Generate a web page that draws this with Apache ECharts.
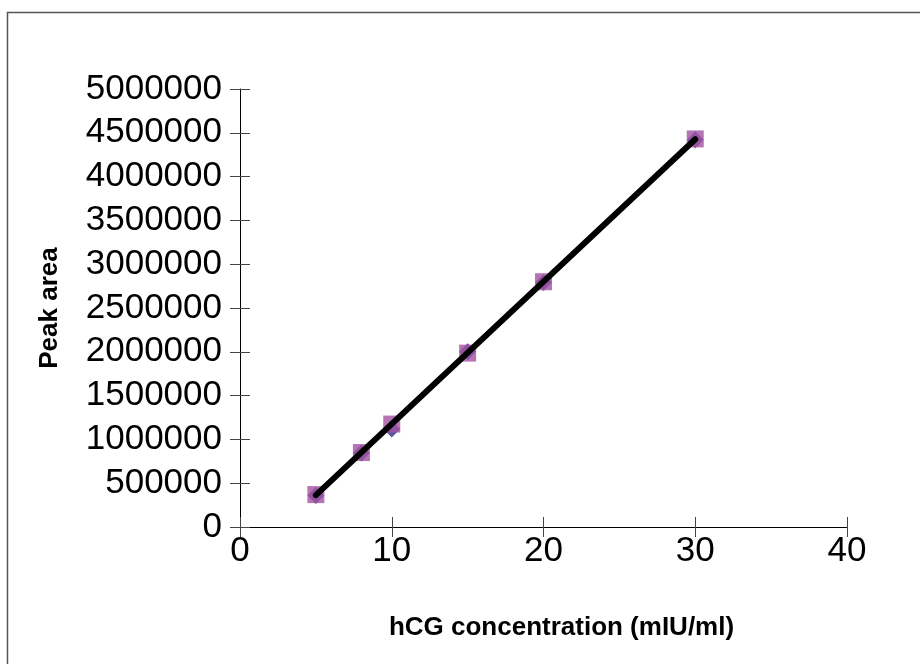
<!DOCTYPE html>
<html>
<head>
<meta charset="utf-8">
<script src="https://cdn.jsdelivr.net/npm/echarts@6/dist/echarts.min.js"></script>
<style>
  html, body { margin: 0; padding: 0; background: #fff; }
  #chart { width: 920px; height: 664px; }
</style>
</head>
<body>
<div id="chart"></div>
<script>
// hCG calibration: peak area against concentration
const concentration = [5, 8, 10, 15, 20, 30];
const peakAreaRun1 = [360000, 845000, 1120000, 2000000, 2790000, 4420000];
const peakAreaRun2 = [370000, 850000, 1175000, 1985000, 2800000, 4430000];

const xTicks = { min: 0, max: 40, interval: 10 };
const yTicks = { min: 0, max: 5000000, interval: 500000 };

// least-squares trend line through the second run
function linearFit(xs, ys) {
  const n = xs.length;
  const mx = xs.reduce((a, b) => a + b, 0) / n;
  const my = ys.reduce((a, b) => a + b, 0) / n;
  let sxy = 0, sxx = 0;
  for (let i = 0; i < n; i++) {
    sxy += (xs[i] - mx) * (ys[i] - my);
    sxx += (xs[i] - mx) * (xs[i] - mx);
  }
  const slope = sxy / sxx;
  return { slope, intercept: my - slope * mx };
}
const fit = linearFit(concentration, peakAreaRun2);
const xLo = Math.min(...concentration), xHi = Math.max(...concentration);
const trend = [[xLo, fit.intercept + fit.slope * xLo], [xHi, fit.intercept + fit.slope * xHi]];

const font = "'Liberation Sans', Arial, sans-serif";
const plain = v => String(v);
const chart = echarts.init(document.getElementById('chart'));

const baseX = {
  type: 'value', min: xTicks.min, max: xTicks.max, interval: xTicks.interval,
  splitLine: { show: false }
};
const baseY = {
  type: 'value', min: yTicks.min, max: yTicks.max, interval: yTicks.interval,
  splitLine: { show: false }
};

chart.setOption({
  animation: false,
  backgroundColor: '#fff',
  grid: { left: 240, top: 89, right: 73, bottom: 137 },
  xAxis: [
    Object.assign({}, baseX, {
      position: 'bottom',
      name: 'hCG concentration (mIU/ml)',
      nameLocation: 'middle',
      nameGap: 88,
      nameTextStyle: { fontFamily: font, fontWeight: 'bold', fontSize: 26, color: '#000', padding: [0, 0, 0, 36] },
      axisLine: { show: true, lineStyle: { color: '#000', width: 1 } },
      axisTick: { show: true, length: 10, lineStyle: { color: '#444' } },
      axisLabel: { fontFamily: font, fontSize: 35, color: '#000', margin: 7, formatter: plain }
    }),
    Object.assign({}, baseX, {
      position: 'bottom',
      axisLine: { show: false },
      axisTick: { show: true, inside: true, length: 10, lineStyle: { color: '#444' } },
      axisLabel: { show: false }
    })
  ],
  yAxis: [
    Object.assign({}, baseY, {
      position: 'left',
      name: 'Peak area',
      nameLocation: 'middle',
      nameGap: 177,
      nameTextStyle: { fontFamily: font, fontWeight: 'bold', fontSize: 26, color: '#000' },
      axisLine: { show: true, lineStyle: { color: '#000', width: 1 } },
      axisTick: { show: true, length: 10, lineStyle: { color: '#444' } },
      axisLabel: { fontFamily: font, fontSize: 35, color: '#000', margin: 18, formatter: plain }
    }),
    Object.assign({}, baseY, {
      position: 'left',
      offset: 0,
      axisLine: { show: false },
      axisTick: { show: true, inside: true, length: 10, lineStyle: { color: '#444' } },
      axisLabel: { show: false }
    })
  ],
  graphic: [{
    type: 'rect',
    shape: { x: 7.5, y: 12.5, width: 1000, height: 1000 },
    style: { fill: 'none', stroke: '#555', lineWidth: 1.5 },
    z: -1
  }],
  series: [
    {
      type: 'scatter',
      data: concentration.map((c, i) => [c, peakAreaRun1[i]]),
      symbol: 'diamond', symbolSize: 17,
      itemStyle: { color: '#2d2d85' },
      z: 2
    },
    {
      type: 'scatter',
      data: concentration.map((c, i) => [c, peakAreaRun2[i]]),
      symbol: 'rect', symbolSize: 17,
      itemStyle: { color: '#a352a3' },
      z: 3
    },
    {
      type: 'line',
      data: trend,
      showSymbol: false,
      symbol: 'none',
      lineStyle: { color: '#000', width: 6, cap: 'round' },
      z: 4
    }
  ]
});
</script>
</body>
</html>
